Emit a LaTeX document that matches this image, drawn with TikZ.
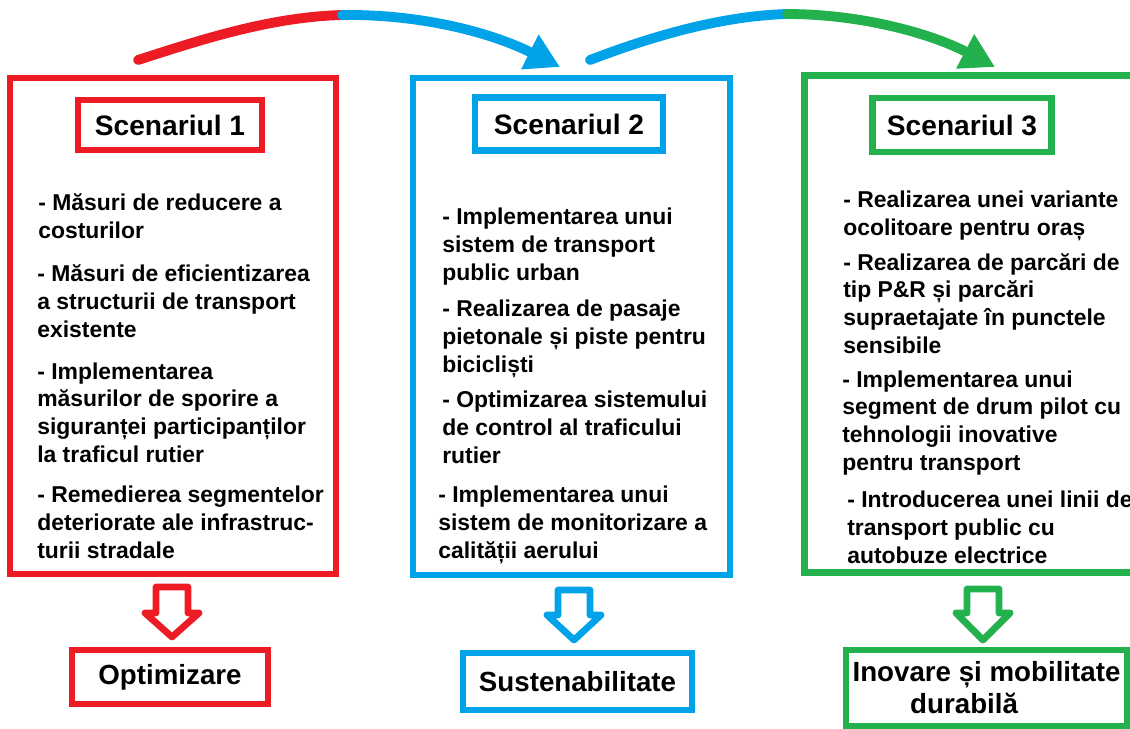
\documentclass[tikz,border=0pt]{standalone}
\usepackage{fontspec}
\setmainfont{Liberation Sans}
\usetikzlibrary{arrows.meta,fit}

\definecolor{sred}{HTML}{ED1C24}
\definecolor{sblue}{HTML}{00A2E8}
\definecolor{sgreen}{HTML}{22B14C}

\tikzset{
  outerbox/.style={draw=#1, line width=4.6pt, inner sep=0pt},
  titlebox/.style={draw=#1, line width=4.6pt, inner sep=0pt,
    font=\fontsize{20}{24}\selectfont\bfseries},
  itemtext/.style={anchor=base west, align=left, inner sep=0pt,
    font=\fontsize{16.3}{19.6}\selectfont\bfseries},
  resultbox/.style={draw=#1, line width=4.4pt, inner sep=0pt,
    font=\fontsize{19.7}{22.8}\selectfont\bfseries},
  toparc/.style={draw=#1, line width=7pt, line cap=round},
}

% colour, centre x, top y, wing y, tip y
\newcommand{\hollowdown}[5]{
  \draw[#1, line width=4.8pt, line join=round]
    ({#2-16},#3) -- ({#2+16},#3) -- ({#2+16},#4) -- ({#2+27},#4)
    -- (#2,#5) -- ({#2-27},#4) -- ({#2-16},#4) -- cycle;
}

\begin{document}
\begin{tikzpicture}[x=0.025cm, y=-0.025cm]
  \useasboundingbox (0,0) rectangle (1130,729);

  \node[outerbox=sred, fit={(10,78) (336,574)}] (sc1) {};
  \node[outerbox=sblue, fit={(413,78) (730,575)}] (sc2) {};
  % the third box runs out of the picture on the right
  \node[inner sep=0pt, fit={(805,76) (1135,572)}] (sc3) {};
  \draw[sgreen, line width=4.6pt] (sc3.north east) -- (sc3.north west)
    -- (sc3.south west) -- (sc3.south east);

  \node[titlebox=sred, minimum width=4.6cm, minimum height=1.25cm] (t1) at (170,125) {Scenariul 1};
  \node[titlebox=sblue, minimum width=4.7cm, minimum height=1.325cm] (t2) at (569,124) {Scenariul 2};
  \node[titlebox=sgreen, minimum width=4.475cm, minimum height=1.35cm] (t3) at (962,125) {Scenariul 3};

  % nodes are placed at the baseline of their last line
  \node[itemtext] (s1i1) at (38,238) {- Măsuri de reducere a\\costurilor};
  \node[itemtext] (s1i2) at (37,337) {- Măsuri de eficientizarea\\a structurii de transport\\existente};
  \node[itemtext] (s1i3) at (37,462) {- Implementarea\\măsurilor de sporire a\\siguranței participanților\\la traficul rutier};
  \node[itemtext] (s1i4) at (37,558) {- Remedierea segmentelor\\deteriorate ale infrastruc-\\turii stradale};

  \node[itemtext] (s2i1) at (442,280) {- Implementarea unui\\sistem de transport\\public urban};
  \node[itemtext] (s2i2) at (442,372) {- Realizarea de pasaje\\pietonale și piste pentru\\bicicliști};
  \node[itemtext] (s2i3) at (442,463) {- Optimizarea sistemului\\de control al traficului\\rutier};
  \node[itemtext] (s2i4) at (438,558) {- Implementarea unui\\sistem de monitorizare a\\calității aerului};

  \node[itemtext] (s3i1) at (843,235) {- Realizarea unei variante\\ocolitoare pentru oraș};
  \node[itemtext] (s3i2) at (843,353) {- Realizarea de parcări de\\tip P\&R și parcări\\supraetajate în punctele\\sensibile};
  \node[itemtext] (s3i3) at (842,470) {- Implementarea unui\\segment de drum pilot cu\\tehnologii inovative\\pentru transport};
  \node[itemtext] (s3i4) at (847,563) {- Introducerea unei linii de\\transport public cu\\autobuze electrice};

  \node[resultbox=sred, minimum width=4.9cm, minimum height=1.35cm] (r1) at (170,677) {Optimizare};
  \node[resultbox=sblue, minimum width=5.725cm, minimum height=1.425cm] (r2) at (577.5,681.5) {Sustenabilitate};
  \node[resultbox=sgreen, minimum width=7.025cm, minimum height=1.9cm, align=left] (r3) at (986.5,688)
    {Inovare și mobilitate\\\hspace*{41pt}durabilă};

  \hollowdown{sred}{172}{587}{613}{637}
  \hollowdown{sblue}{574}{590}{615}{640}
  \hollowdown{sgreen}{983}{589}{613}{640}

  \coordinate (a1s) at (138,60);
  \coordinate (a1m) at (342,15);
  \coordinate (a1e) at (560,67);
  \coordinate (a2s) at (590,60);
  \coordinate (a2m) at (787,14);
  \coordinate (a2e) at (995,67);

  \draw[toparc=sred] (a1s) .. controls (200,40) and (270,17) .. (a1m);
  \draw[toparc=sblue, -{Triangle[length=24pt,width=26pt]}] (a1m) .. controls (420,14) and (490,32) .. (a1e);
  \draw[toparc=sblue] (a2s) .. controls (650,37) and (720,16) .. (a2m);
  \draw[toparc=sgreen, -{Triangle[length=24pt,width=26pt]}] (a2m) .. controls (860,14) and (930,33) .. (a2e);
\end{tikzpicture}
\end{document}
